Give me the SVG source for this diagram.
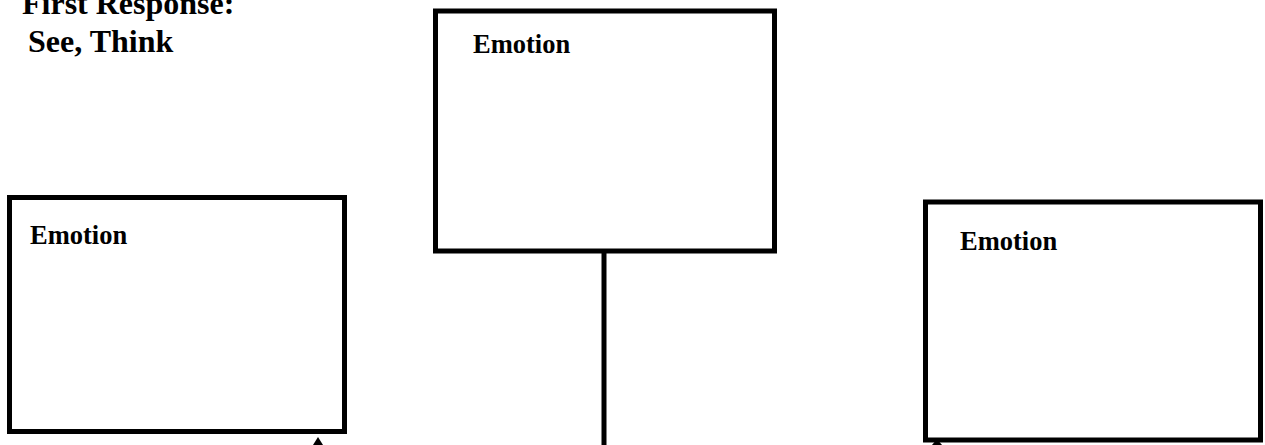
<svg xmlns="http://www.w3.org/2000/svg" width="1265" height="445" viewBox="0 0 1265 445">
<style>
.box{fill:#fff;stroke:#000;stroke-width:5}
.lbl{font-family:"Liberation Serif","Times New Roman",serif;font-weight:bold;font-size:26.5px;fill:#000}
.ttl{font-family:"Liberation Serif","Times New Roman",serif;font-weight:bold;font-size:32px;fill:#000}
.conn{stroke:#000;stroke-width:5;fill:none}
</style>
<rect width="1265" height="445" fill="#fff"/>
<g id="title">
<text class="ttl" x="22" y="14">First Response:</text>
<text class="ttl" x="28" y="52">See, Think</text>
</g>
<g id="connectors">
<line class="conn" x1="604" y1="251" x2="604" y2="445"/>
<polygon points="313,445 318,437 323,445" fill="#000"/>
<polygon points="932,445 937,439 942,445" fill="#000"/>
</g>
<g id="node-center">
<rect class="box" x="435.5" y="11" width="339" height="240"/>
<text class="lbl" x="473" y="53">Emotion</text>
</g>
<g id="node-left">
<rect class="box" x="9.5" y="197.5" width="335" height="234"/>
<text class="lbl" x="30" y="244">Emotion</text>
</g>
<g id="node-right">
<rect class="box" x="925.5" y="202" width="335" height="238"/>
<text class="lbl" x="960" y="250">Emotion</text>
</g>
</svg>
